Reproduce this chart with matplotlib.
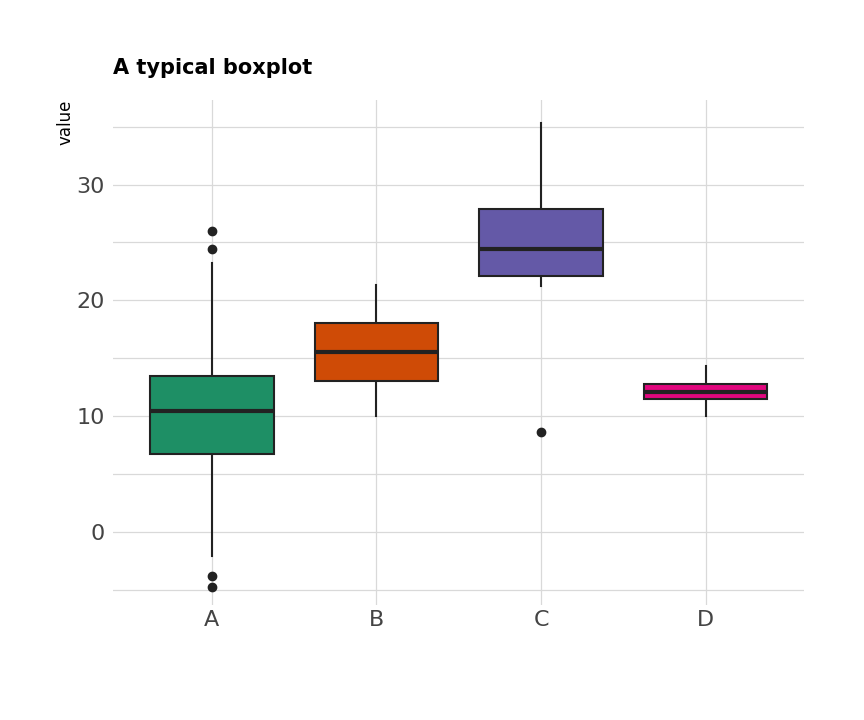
import matplotlib.pyplot as plt

# statistics
names = ["A", "B", "C", "D"]
whislo = [-2.1, 10.0, 21.2, 10.0]
q1 = [6.7, 13.0, 22.1, 11.5]
med = [10.4, 15.5, 24.4, 12.1]
q3 = [13.5, 18.0, 27.9, 12.8]
whishi = [23.2, 21.3, 35.3, 14.3]
fliers = [[26.0, 24.4, -3.8, -4.8], [], [8.6], []]
colors = ["#1E8F65", "#CF4B06", "#6459A7", "#E1077E"]

stats = []
for i, n in enumerate(names):
    stats.append(dict(label=n, whislo=whislo[i], q1=q1[i], med=med[i],
                      q3=q3[i], whishi=whishi[i], fliers=fliers[i]))

fig = plt.figure(figsize=(8.64, 7.2), dpi=100)
ax = fig.add_axes([0.131, 0.16, 0.8, 0.701])

bp = ax.bxp(stats, positions=[1, 2, 3, 4], widths=0.75, patch_artist=True,
            showcaps=False,
            boxprops=dict(edgecolor="#222222", linewidth=1.5),
            medianprops=dict(color="#222222", linewidth=3),
            whiskerprops=dict(color="#222222", linewidth=1.5),
            flierprops=dict(marker="o", markerfacecolor="#222222",
                            markeredgecolor="#222222", markersize=6))
for patch, c in zip(bp["boxes"], colors):
    patch.set_facecolor(c)
    patch.set_zorder(3)
for k in ["medians", "whiskers", "fliers"]:
    for a in bp[k]:
        a.set_zorder(4 if k == "medians" else 2)

ax.set_xlim(0.4, 4.6)
ax.set_ylim(-6.3, 37.3)
ax.set_yticks([0, 10, 20, 30])
ax.set_yticks([-5, 5, 15, 25, 35], minor=True)
ax.set_xticks([1, 2, 3, 4])
ax.set_xticklabels(names)
ax.grid(True, which="both", axis="y", color="#D9D9D9", linewidth=0.9)
ax.grid(True, axis="x", color="#D9D9D9", linewidth=0.9)
ax.set_axisbelow(True)
for s in ax.spines.values():
    s.set_visible(False)
ax.tick_params(which="both", length=0, labelsize=16, labelcolor="#444444")
ax.tick_params(axis="y", pad=6)

fig.text(0.131, 0.905, "A typical boxplot", fontsize=15, fontweight="bold",
         ha="left", va="center")
fig.text(0.076, 0.861, "value", rotation=90, fontsize=12, ha="center", va="top")

fig.savefig("out.png", dpi=100)
